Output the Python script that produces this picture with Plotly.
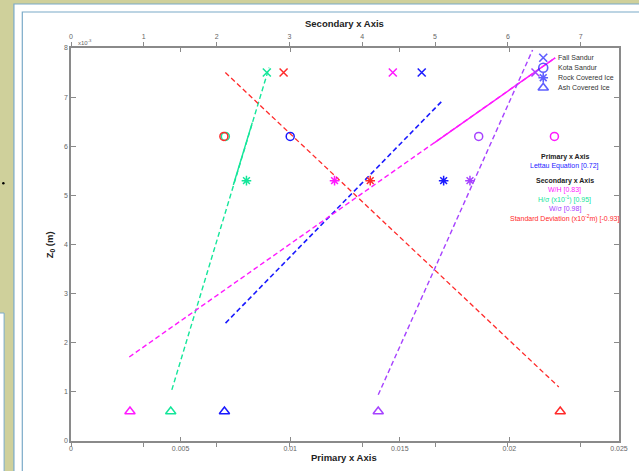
import plotly.graph_objects as go

# ---- data -------------------------------------------------------------
sites = ["Fall Sandur", "Kota Sandur", "Rock Covered Ice", "Ash Covered Ice"]
z0 = [7.5, 6.2, 5.3, 0.6]

# primary x axis
lettau = [0.0160, 0.0100, 0.0170, 0.0070]
# secondary x axis (x10^-3)
w_h = [4.42, 6.64, 3.62, 0.81]
h_sigma = [2.69, 2.12, 2.41, 1.37]
w_sigma = [6.38, 5.60, 5.48, 4.22]
std_dev = [2.92, 2.10, 4.11, 6.72]

# regression lines (x, z end points)
lettau_fit_x = [0.00705, 0.01697]
lettau_fit_z = [2.40, 6.94]
w_h_fit_x = [0.80, 6.65]
w_h_fit_z = [1.71, 7.80]
w_h_solid_x = [4.99, 6.65]
w_h_solid_z = [6.07, 7.80]
h_sigma_fit_x = [1.385, 2.72]
h_sigma_fit_z = [1.04, 7.60]
h_sigma_solid_x = [2.23, 2.49]
h_sigma_solid_z = [5.21, 6.48]
w_sigma_fit_x = [4.22, 6.34]
w_sigma_fit_z = [0.94, 7.96]
std_fit_x = [2.12, 6.70]
std_fit_z = [7.50, 1.10]

primary_ticks = [0, 0.005, 0.01, 0.015, 0.02, 0.025]
primary_labels = ["0", "0.005", "0.01", "0.015", "0.02", "0.025"]
secondary_ticks = [0, 1, 2, 3, 4, 5, 6, 7]
z_ticks = [0, 1, 2, 3, 4, 5, 6, 7, 8]

r_lettau, r_wh, r_hs, r_ws, r_sd = 0.72, 0.83, 0.95, 0.98, -0.93

# ---- styling ----------------------------------------------------------
FONT = "Liberation Sans, Arial, sans-serif"
BLUE = "#1a1aff"
RED = "#ff2a2a"
GREEN = "#14e69a"
MAGENTA = "#ff19ff"
PURPLE = "#a642ff"
AXIS = "#8a8a8a"
LABEL = "#666666"
BEIGE = "#cfd09b"
FRAME = "#7aaac8"

W_FIG, H_FIG = 639, 471
L, R, T, B = 71, 628, 48, 441          # plot area in pixels
PW, PH = R - L, B - T
SEC_MAX = PW / 74.0                     # secondary axis: 74 px per unit

def px(x):
    return (x - L) / PW

def py(y):
    return (B - y) / PH

symbols = ["x-thin-open", "circle-open", "asterisk-open", "triangle-up-open"]
sizes = [8, 8, 8, 9]

fig = go.Figure()

def add_points(xs, color, axis):
    for i, s in enumerate(sites):
        fig.add_trace(go.Scatter(
            x=[xs[i]], y=[z0[i]], mode="markers", xaxis=axis, yaxis="y",
            marker=dict(symbol=symbols[i], size=sizes[i], color=color,
                        line=dict(color=color, width=1.5)),
            showlegend=False, hoverinfo="skip"))

def add_line(xs, zs, color, axis, dash="5px,3px", width=1.4):
    fig.add_trace(go.Scatter(
        x=xs, y=zs, mode="lines", xaxis=axis, yaxis="y",
        line=dict(color=color, width=width, dash=dash),
        showlegend=False, hoverinfo="skip"))

# fit lines
add_line(h_sigma_fit_x, h_sigma_fit_z, GREEN, "x2")
add_line(h_sigma_solid_x, h_sigma_solid_z, GREEN, "x2", dash="solid")
add_line(std_fit_x, std_fit_z, RED, "x2", width=1.3)
add_line(w_h_fit_x, w_h_fit_z, MAGENTA, "x2")
add_line(w_h_solid_x, w_h_solid_z, MAGENTA, "x2", dash="solid")
add_line(w_sigma_fit_x, w_sigma_fit_z, PURPLE, "x2")
add_line(lettau_fit_x, lettau_fit_z, BLUE, "x", width=1.6)

# observations
add_points(h_sigma, GREEN, "x2")
add_points(std_dev, RED, "x2")
add_points(w_h, MAGENTA, "x2")
add_points(w_sigma, PURPLE, "x2")
add_points(lettau, BLUE, "x")

# legend keys (drawn on a paper-mapped overlay axis)
leg_y = [57.7, 67.7, 77.7, 87.7]
fig.add_trace(go.Scatter(
    x=[px(551)] * 4, y=[py(v) for v in leg_y], mode="markers",
    xaxis="x3", yaxis="y3",
    marker=dict(symbol=symbols, size=[8, 9, 8, 9], color=BLUE,
                line=dict(color=BLUE, width=1.6)),
    showlegend=False, hoverinfo="skip"))

def note(x, y, text, size=7, color="#333", xanchor="center", angle=0):
    return dict(x=px(x), y=py(y), xref="paper", yref="paper", text=text,
                showarrow=False, xanchor=xanchor, yanchor="middle",
                textangle=angle, font=dict(family=FONT, size=size,
                                           color=color))

annotations = []
for s, v in zip(sites, leg_y):
    annotations.append(note(564, v, s, xanchor="left"))

# correlation notes
notes = [
    ("<b>Primary x Axis</b>", "#222", 156.5),
    (f"Lettau Equation [{r_lettau:.2f}]", BLUE, 165.5),
    ("<b>Secondary x Axis</b>", "#222", 181),
    (f"W/H [{r_wh:.2f}]", MAGENTA, 190),
    (f"H/σ (x10<sup>-1</sup>) [{r_hs:.2f}]", GREEN, 199.5),
    (f"W/σ [{r_ws:.2f}]", PURPLE, 209),
    (f"Standard Deviation (x10<sup>-2</sup>m) [{r_sd:.2f}]", RED, 219),
]
for txt, col, yy in notes:
    annotations.append(note(573, yy, txt, color=col))

# axis titles
annotations += [
    note(349, 24, "<b>Secondary x Axis</b>", size=9.5, color="#222"),
    note(348, 458, "<b>Primary x Axis</b>", size=9.5, color="#222"),
    note(50, 245, "<b>Z<sub>0</sub> (m)</b>", size=9.5, color="#222",
         angle=-90),
    note(76, 42, "x10<sup>-3</sup>", size=6, color=LABEL, xanchor="left"),
]

# page frame
shapes = [
    dict(type="rect", xref="paper", yref="paper", layer="below",
         x0=px(13), x1=px(660), y0=py(4), y1=py(490),
         fillcolor="white", line=dict(color=FRAME, width=1.2)),
    dict(type="rect", xref="paper", yref="paper", layer="below",
         x0=px(21.5), x1=px(660), y0=py(12), y1=py(490),
         fillcolor="white", line=dict(color=FRAME, width=1.2)),
    dict(type="rect", xref="paper", yref="paper", layer="below",
         x0=px(-5), x1=px(3), y0=py(313), y1=py(490),
         fillcolor="white", line=dict(color=FRAME, width=1)),
    dict(type="circle", xref="paper", yref="paper", layer="below",
         x0=px(1), x1=px(3.5), y0=py(182), y1=py(184.5),
         fillcolor="black", line=dict(width=0)),
]

tickfont = dict(family=FONT, size=7, color=LABEL)

fig.update_layout(
    width=W_FIG, height=H_FIG, autosize=False,
    margin=dict(l=L, r=W_FIG - R, t=T, b=H_FIG - B, pad=0),
    paper_bgcolor=BEIGE, plot_bgcolor="rgba(0,0,0,0)",
    showlegend=False,
    xaxis=dict(range=[0, 0.025], tickvals=primary_ticks,
               ticktext=primary_labels, ticks="inside", ticklen=4,
               color=LABEL, tickcolor=AXIS, showline=True, linecolor=AXIS,
               linewidth=1.5, mirror="ticks", showgrid=False,
               zeroline=False, tickfont=tickfont),
    xaxis2=dict(range=[0, SEC_MAX], overlaying="x", side="top",
                tickvals=secondary_ticks, ticks="outside", ticklen=5,
                color=LABEL, tickcolor=AXIS, showline=False, mirror="ticks",
                showgrid=False, zeroline=False, tickfont=tickfont),
    yaxis=dict(range=[0, 8], tickvals=z_ticks, ticks="inside", ticklen=5,
               color=LABEL, tickcolor=AXIS, showline=True, linecolor=AXIS,
               linewidth=1.5, mirror="ticks", showgrid=False,
               zeroline=False, tickfont=tickfont),
    xaxis3=dict(range=[0, 1], overlaying="x", visible=False),
    yaxis3=dict(range=[0, 1], overlaying="y", visible=False),
    annotations=annotations,
    shapes=shapes,
)

fig.write_html("out.html")
